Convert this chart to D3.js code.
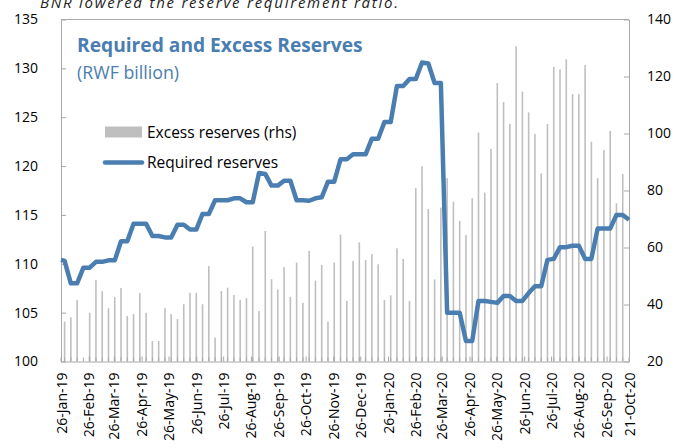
<!DOCTYPE html>
<html>
<head>
<meta charset="utf-8">
<script src="https://cdn.jsdelivr.net/npm/d3@7"></script>
<style>
  body { margin: 0; background: #fff; }
  svg text { font-family: "Open Sans", "Noto Sans", sans-serif; }
</style>
</head>
<body>
<svg id="chart" width="675" height="448"></svg>
<script>
(() => {
  'use strict';

  // first point is 26-Jan-19, then weekly (Wednesdays) up to 21-Oct-20
  const startDate = "2019-01-26";
  const firstWeek = "2019-01-30";
  const lastWeek = "2020-10-21";

  // Required reserves, RWF billion (lhs)
  const requiredReserves = [
    110.4,
    110.3, 108.0, 108.0, 109.6, 109.6, 110.2, 110.2, 110.35, 110.35, 112.3,
    112.3, 114.1, 114.1, 114.1, 112.85, 112.85, 112.7, 112.7, 114.0, 114.0,
    113.5, 113.5, 115.1, 115.1, 116.5, 116.5, 116.5, 116.7, 116.7, 116.3,
    116.3, 119.3, 119.2, 118.0, 118.0, 118.5, 118.5, 116.5, 116.5, 116.45,
    116.7, 116.8, 118.4, 118.4, 120.7, 120.7, 121.2, 121.2, 121.2, 122.8,
    122.8, 124.5, 124.5, 128.2, 128.2, 128.9, 128.9, 130.6, 130.5, 128.5,
    128.5, 105.0, 105.0, 105.0, 102.1, 102.1, 106.2, 106.2, 106.1, 106.0,
    106.7, 106.7, 106.2, 106.2, 107.0, 107.7, 107.7, 110.4, 110.5, 111.7,
    111.7, 111.85, 111.85, 110.5, 110.5, 113.6, 113.6, 113.6, 115.0, 115.0,
    114.5
  ];

  // Excess reserves, RWF billion (rhs)
  const excessReserves = [
    null,
    34.0, 35.5, 41.6, null, 37.1, 48.6, 44.7, 38.7, 42.6, 45.8,
    36.0, 36.7, 44.0, 37.1, 27.2, 27.2, 38.7, 36.6, 34.9, 40.1,
    44.1, 44.1, 40.1, 53.5, 28.4, 44.7, 45.9, 43.3, 41.6, 42.2,
    60.3, 37.7, 65.8, 48.9, 45.3, 53.1, 42.7, 54.7, 40.6, 58.8,
    48.4, 53.9, 34.0, 54.7, 64.5, 41.3, 55.3, 61.8, 55.6, 57.7,
    54.1, 41.6, 43.2, 59.7, 56.0, 41.2, 80.8, 88.5, 73.5, 48.8,
    74.0, 84.3, 76.1, 69.3, 64.4, 77.3, 100.3, 79.2, 94.6, 117.7,
    111.0, 103.4, 130.6, 114.7, 107.4, 99.8, 86.0, 103.3, 123.4, 122.5,
    126.0, 113.8, 113.8, 124.0, 97.1, 84.3, 94.2, 100.9, 75.5, 85.8,
    null
  ];

  const leftTicks = [100, 105, 110, 115, 120, 125, 130, 135];
  const rightTicks = [20, 40, 60, 80, 100, 120, 140];
  const xTickLabels = [
    "26-Jan-19", "26-Feb-19", "26-Mar-19", "26-Apr-19", "26-May-19", "26-Jun-19",
    "26-Jul-19", "26-Aug-19", "26-Sep-19", "26-Oct-19", "26-Nov-19", "26-Dec-19",
    "26-Jan-20", "26-Feb-20", "26-Mar-20", "26-Apr-20", "26-May-20", "26-Jun-20",
    "26-Jul-20", "26-Aug-20", "26-Sep-20", "21-Oct-20"
  ];

  const blue = "#4a7eb0", grey = "#bfbfbf", axisGrey = "#a9a9a9";

  const parseIso = d3.timeParse("%Y-%m-%d");
  const parseLabel = d3.timeParse("%d-%b-%y");
  const fmtLabel = d3.timeFormat("%d-%b-%y");

  let dates = [parseIso(startDate)].concat(
    d3.timeWednesday.range(parseIso(firstWeek), d3.timeDay.offset(parseIso(lastWeek), 1)));

  let data = dates.map((d, i) => ({date: d, req: requiredReserves[i], exc: excessReserves[i]}));

  const left = 61, right = 629, top = 19.5, bottom = 361.5;

  let x = d3.scaleTime().domain([parseIso(startDate), parseIso(lastWeek)]).range([left, right]);
  let yL = d3.scaleLinear().domain([100, 135]).range([bottom, top]);
  let yR = d3.scaleLinear().domain([20, 140]).range([bottom, top]);

  let svg = d3.select("#chart");

  // note, clipped at the top of the picture as in the source
  svg.append("text")
    .attr("x", 40).attr("y", 7.5)
    .attr("font-size", 15).attr("font-style", "italic")
    .attr("textLength", 358).attr("lengthAdjust", "spacing")
    .attr("fill", "#222")
    .text("BNR lowered the reserve requirement ratio.");

  // excess reserves bars
  svg.append("g").selectAll("rect")
    .data(data.filter(d => d.exc != null))
    .join("rect")
    .attr("x", d => x(d.date) - 0.8)
    .attr("width", 1.6)
    .attr("y", d => yR(d.exc))
    .attr("height", d => yR(20) - yR(d.exc))
    .attr("fill", grey);

  // plot border top
  svg.append("line")
    .attr("x1", left).attr("x2", right).attr("y1", top).attr("y2", top)
    .attr("stroke", axisGrey);

  // weekly minor ticks
  svg.append("g").selectAll("line")
    .data(dates)
    .join("line")
    .attr("x1", d => x(d)).attr("x2", d => x(d))
    .attr("y1", bottom).attr("y2", bottom - 4)
    .attr("stroke", axisGrey);

  function styleAxis(g) {
    g.select(".domain").attr("stroke", axisGrey);
    g.selectAll(".tick line").attr("stroke", axisGrey);
    g.selectAll(".tick text").attr("fill", "#000").attr("font-size", 14)
      .attr("font-family", '"Open Sans", "Noto Sans", sans-serif');
  }

  svg.append("g")
    .attr("transform", `translate(${left},0)`)
    .call(d3.axisLeft(yL).tickValues(leftTicks).tickSize(-5).tickSizeOuter(0).tickPadding(23))
    .call(styleAxis);

  svg.append("g")
    .attr("transform", `translate(${right},0)`)
    .call(d3.axisRight(yR).tickValues(rightTicks).tickSize(-5).tickSizeOuter(0).tickPadding(18))
    .call(styleAxis);

  let xAxis = svg.append("g")
    .attr("transform", `translate(0,${bottom})`)
    .call(d3.axisBottom(x).tickValues(xTickLabels.map(parseLabel))
      .tickFormat(fmtLabel).tickSize(-5).tickSizeOuter(0))
    .call(styleAxis);
  xAxis.selectAll(".tick text")
    .attr("transform", "rotate(-90)")
    .attr("x", -11).attr("y", 0).attr("dy", "0.36em")
    .attr("text-anchor", "end");

  // required reserves line
  svg.append("path")
    .datum(data)
    .attr("fill", "none")
    .attr("stroke", blue)
    .attr("stroke-width", 4.5)
    .attr("stroke-linejoin", "round")
    .attr("d", d3.line().x(d => x(d.date)).y(d => yL(d.req)));

  // title
  svg.append("text")
    .attr("x", 77).attr("y", 52)
    .attr("font-size", 19.2).attr("font-weight", "bold").attr("fill", blue)
    .text("Required and Excess Reserves");
  svg.append("text")
    .attr("x", 77).attr("y", 79)
    .attr("font-size", 17.8).attr("fill", blue)
    .text("(RWF billion)");

  // legend
  let legend = svg.append("g");
  legend.append("rect")
    .attr("x", 105).attr("y", 126.5).attr("width", 37).attr("height", 11)
    .attr("fill", grey);
  legend.append("text")
    .attr("x", 147).attr("y", 137.5).attr("font-size", 15.5).attr("fill", "#000")
    .text("Excess reserves (rhs)");
  legend.append("line")
    .attr("x1", 105).attr("x2", 142).attr("y1", 162.5).attr("y2", 162.5)
    .attr("stroke", blue).attr("stroke-width", 4.5).attr("stroke-linecap", "round");
  legend.append("text")
    .attr("x", 147).attr("y", 168).attr("font-size", 15.5).attr("fill", "#000")
    .text("Required reserves");
})();
</script>
</body>
</html>
